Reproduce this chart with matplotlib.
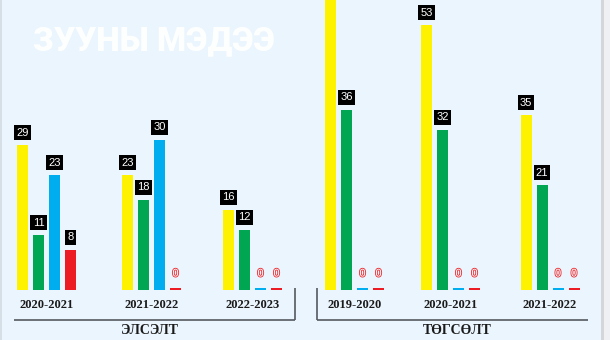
import matplotlib.pyplot as plt
import matplotlib.patheffects as pe

# Elsselt (admissions) and Tugsult (graduations) by school year, four series each
left_years = ["2020-2021", "2021-2022", "2022-2023"]
right_years = ["2019-2020", "2020-2021", "2021-2022"]

left_yellow = [29, 23, 16]
left_green = [11, 18, 12]
left_blue = [23, 30, 0]
left_red = [8, 0, 0]

right_yellow = [62, 53, 35]
right_green = [36, 32, 21]
right_blue = [0, 0, 0]
right_red = [0, 0, 0]

left_title = "ЭЛСЭЛТ"
right_title = "ТӨГСӨЛТ"
watermark = "ЗУУНЫ МЭДЭЭ"

colors = ["#fff200", "#00a651", "#00aeef", "#ed1c24"]
bg = "#ebf5fd"

W, H = 610, 340
base_px = 290
px_per_unit = 5.0

fig = plt.figure(figsize=(W / 100, H / 100), dpi=100)
fig.patch.set_facecolor(bg)

# decoration layer in pixel coordinates
deco = fig.add_axes([0, 0, 1, 1])
deco.set_xlim(0, W)
deco.set_ylim(H, 0)
deco.axis("off")
deco.add_patch(plt.Rectangle((0, 0), 2, H, color="#d6dee6", lw=0))
deco.add_patch(plt.Rectangle((601, 0), 3, H, color="#d5d6da", lw=0))
deco.add_patch(plt.Rectangle((604, 0), 6, H, color="#eef0f4", lw=0))

deco.text(154, 41, watermark, color="white", fontsize=24, fontweight="heavy",
          family="Roboto", ha="center", va="center", alpha=0.95)

# bar layer: baseline at pixel 290, 5 px per unit
ax = fig.add_axes([0, (H - base_px) / H, 1, base_px / H])
ymax = base_px / px_per_unit
ax.set_xlim(0, W)
ax.set_ylim(0, ymax)
ax.axis("off")
ax.patch.set_alpha(0)

group_starts = [22.5, 127.5, 228.5, 330.5, 426.5, 526]
step = 16
bar_w = 11

series = [
    left_yellow + right_yellow,
    left_green + right_green,
    left_blue + right_blue,
    left_red + right_red,
]

num_font = ["Liberation Sans", "DejaVu Sans"]

for s, vals in enumerate(series):
    xs = [g + s * step for g in group_starts]
    heights = [v if v > 0 else 0.4 for v in vals]
    ax.bar(xs, heights, width=bar_w, color=colors[s], linewidth=0)
    for x, v in zip(xs, vals):
        if v > 0:
            if v + 4 > ymax:
                continue  # label would sit above the top edge
            ax.text(x, v + 2.5, str(v), color="white", fontsize=8, family=num_font,
                    ha="center", va="center",
                    bbox=dict(boxstyle="square,pad=0.2", fc="black", ec="none"))
        else:
            ax.text(x, 3.3, "0", color="white", fontsize=8, family=num_font,
                    ha="center", va="center",
                    path_effects=[pe.withStroke(linewidth=1.3, foreground="#e8343c")])

# group labels under each cluster
centers = [g + 1.5 * step for g in group_starts]
for c, label in zip(centers, left_years + right_years):
    deco.text(c, 305, label, fontsize=9, fontweight="bold", family="Liberation Serif",
              ha="center", va="center", color="#1a1a1a")

# bracket lines for the two sections
line_kw = dict(color="#555a60", lw=1.2, solid_capstyle="butt")
deco.plot([14, 295], [320, 320], **line_kw)
deco.plot([295, 295], [288, 320], **line_kw)
deco.plot([317, 588], [320, 320], **line_kw)
deco.plot([317, 317], [288, 320], **line_kw)

deco.text(150, 331, left_title, fontsize=10, fontweight="bold", family="Liberation Serif",
          ha="center", va="center", color="#1a1a1a")
deco.text(457, 331, right_title, fontsize=10, fontweight="bold", family="Liberation Serif",
          ha="center", va="center", color="#1a1a1a")

fig.savefig("out.png", dpi=100, facecolor=bg)
